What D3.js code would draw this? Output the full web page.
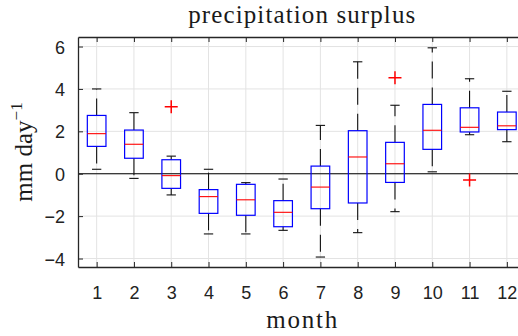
<!DOCTYPE html>
<html>
<head>
<meta charset="utf-8">
<script src="https://cdn.jsdelivr.net/npm/d3@7"></script>
<style>
  html, body { margin: 0; padding: 0; background: #fff; }
  svg { display: block; }
</style>
</head>
<body>
<svg id="chart" width="518" height="336"></svg>
<script>
// Monthly precipitation surplus (mm/day), box-plot statistics per month
const months      = [1, 2, 3, 4, 5, 6, 7, 8, 9, 10, 11, 12];
const whiskerLow  = [0.21, -0.22, -1.00, -2.84, -2.84, -2.67, -3.93, -2.78, -1.79, 0.09, 1.84, 1.51];
const q1          = [1.29, 0.73, -0.69, -1.87, -1.96, -2.50, -1.65, -1.38, -0.41, 1.15, 1.97, 2.08];
const medians     = [1.89, 1.39, -0.09, -1.08, -1.23, -1.82, -0.63, 0.79, 0.47, 2.05, 2.19, 2.26];
const q3          = [2.75, 2.06, 0.66, -0.75, -0.50, -1.27, 0.36, 2.03, 1.48, 3.27, 3.11, 2.91];
const whiskerHigh = [4.00, 2.88, 0.83, 0.21, -0.42, -0.25, 2.28, 5.28, 3.23, 5.94, 4.48, 3.89];
const outlierMonth = [3, 9, 11];
const outlierValue = [3.16, 4.53, -0.30];
const yTicks = [-4, -2, 0, 2, 4, 6];

const svg = d3.select("#chart");
const plotLeft = 78, plotTop = 37, plotBottom = 267, plotRight = 525.5;

const x = d3.scaleLinear().domain([0.5, 12.5]).range([plotLeft, plotRight]);
const y = d3.scaleLinear().domain([-4.4, 6.45]).range([plotBottom, plotTop]);

const axisColor = "#262626";
const boxHalf = 0.25, capHalf = 0.125;

// grid
const grid = svg.append("g");
grid.selectAll("line.gx").data(months).join("line")
  .attr("x1", d => x(d)).attr("x2", d => x(d))
  .attr("y1", plotTop).attr("y2", plotBottom)
  .attr("stroke", "#e3e3e3").attr("stroke-width", 1);
grid.selectAll("line.gy").data(yTicks).join("line")
  .attr("x1", plotLeft).attr("x2", plotRight)
  .attr("y1", d => y(d)).attr("y2", d => y(d))
  .attr("stroke", "#e3e3e3").attr("stroke-width", 1);

// zero reference line
svg.append("line")
  .attr("x1", plotLeft).attr("x2", plotRight)
  .attr("y1", y(0)).attr("y2", y(0))
  .attr("stroke", "#000").attr("stroke-width", 1.1);

// axes with inward ticks
const tickLen = 5;
const xBottom = d3.axisBottom(x).tickValues(months).tickSizeInner(-tickLen).tickSizeOuter(0).tickPadding(19);
const gx = svg.append("g").attr("transform", `translate(0,${plotBottom})`).call(xBottom);
const xTop = d3.axisTop(x).tickValues(months).tickSizeInner(-tickLen).tickSizeOuter(0).tickFormat("");
const gxt = svg.append("g").attr("transform", `translate(0,${plotTop})`).call(xTop);
const yLeft = d3.axisLeft(y).tickValues(yTicks).tickSizeInner(-tickLen).tickSizeOuter(0).tickPadding(13);
const gy = svg.append("g").attr("transform", `translate(${plotLeft},0)`).call(yLeft);

[gx, gxt, gy].forEach(g => {
  g.select(".domain").attr("stroke", axisColor).attr("stroke-width", 1.3);
  g.selectAll(".tick line").attr("stroke", axisColor).attr("stroke-width", 1);
  g.selectAll(".tick text")
    .attr("fill", "#222")
    .style("font-family", "'Liberation Sans', Arial, sans-serif")
    .style("font-size", "18px");
});
gy.selectAll(".tick text").attr("dy", "0.36em");

// whiskers (dashed, starting at the box edge)
const dash = "17,9";
const boxes = svg.append("g");
months.forEach((m, i) => {
  const cx = x(m);
  boxes.append("line")
    .attr("x1", cx).attr("x2", cx)
    .attr("y1", y(q3[i])).attr("y2", y(whiskerHigh[i]))
    .attr("stroke", "#111").attr("stroke-width", 1.1)
    .attr("stroke-dasharray", dash);
  boxes.append("line")
    .attr("x1", cx).attr("x2", cx)
    .attr("y1", y(q1[i])).attr("y2", y(whiskerLow[i]))
    .attr("stroke", "#111").attr("stroke-width", 1.1)
    .attr("stroke-dasharray", dash);
  // caps
  [whiskerHigh[i], whiskerLow[i]].forEach(v => {
    boxes.append("line")
      .attr("x1", x(m - capHalf)).attr("x2", x(m + capHalf))
      .attr("y1", y(v)).attr("y2", y(v))
      .attr("stroke", "#111").attr("stroke-width", 1.1);
  });
  // box
  boxes.append("rect")
    .attr("x", x(m - boxHalf)).attr("width", x(m + boxHalf) - x(m - boxHalf))
    .attr("y", y(q3[i])).attr("height", y(q1[i]) - y(q3[i]))
    .attr("fill", "none").attr("stroke", "#0000ff").attr("stroke-width", 1.2);
  // median
  boxes.append("line")
    .attr("x1", x(m - boxHalf)).attr("x2", x(m + boxHalf))
    .attr("y1", y(medians[i])).attr("y2", y(medians[i]))
    .attr("stroke", "#ff0000").attr("stroke-width", 1.1);
});

// outliers as red plus markers
const ph = 6.5;
outlierMonth.forEach((m, i) => {
  const cx = x(m), cy = y(outlierValue[i]);
  boxes.append("path")
    .attr("d", `M${cx - ph},${cy}H${cx + ph}M${cx},${cy - ph}V${cy + ph}`)
    .attr("stroke", "#ff0000").attr("stroke-width", 1.5).attr("fill", "none");
});

// title and axis labels (serif)
const serif = "'Liberation Serif', 'Times New Roman', serif";
const cxPlot = (plotLeft + plotRight) / 2;
svg.append("text")
  .attr("x", cxPlot).attr("y", 23)
  .attr("text-anchor", "middle")
  .attr("textLength", 227).attr("lengthAdjust", "spacing")
  .style("font-family", serif).style("font-size", "25px").attr("fill", "#1a1a1a")
  .text("precipitation surplus");

svg.append("text")
  .attr("x", cxPlot).attr("y", 328)
  .attr("text-anchor", "middle")
  .attr("textLength", 71).attr("lengthAdjust", "spacing")
  .style("font-family", serif).style("font-size", "25px").attr("fill", "#1a1a1a")
  .text("month");

const yl = svg.append("text")
  .attr("transform", `translate(32,${(plotTop + plotBottom) / 2}) rotate(-90)`)
  .attr("text-anchor", "middle")
  .style("font-family", serif).style("font-size", "25px").attr("fill", "#1a1a1a");
yl.append("tspan").text("mm day");
yl.append("tspan").attr("dy", -10).style("font-size", "17px").text("\u22121");
</script>
</body>
</html>
